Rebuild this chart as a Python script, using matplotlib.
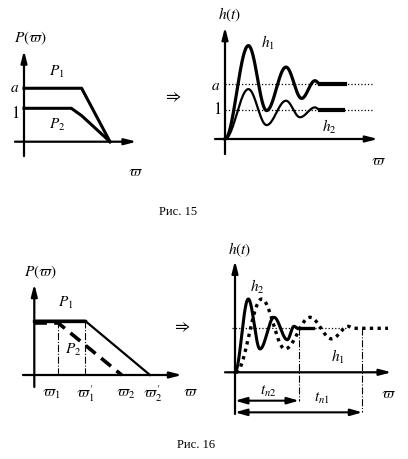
import numpy as np
import matplotlib
matplotlib.use('Agg')
import matplotlib.pyplot as plt

plt.rcParams['mathtext.fontset'] = 'stix'
plt.rcParams['font.family'] = ['Liberation Serif', 'DejaVu Serif']

# --- Рис. 15, left: spectra P(w) (w normalised to cut-off = 1)
p1_w = [0, 0.67, 1.0]
p1_v = [1.6, 1.6, 0]
p2_w = [0, 0.55, 0.67, 1.0]
p2_v = [1, 1, 0.78, 0]

# --- Рис. 15, right: step responses, extrema (t, h)
h1_t = [0, 1.17, 2.08, 3.05, 3.83, 4.5, 4.75]
h1_v = [0, 3.22, 0.98, 2.48, 1.40, 2.01, 1.9]
h1_end = 6.0
h2_t = [0, 1.17, 2.08, 3.05, 3.75, 4.5, 4.75]
h2_v = [0, 1.72, 0.48, 1.32, 0.75, 1.09, 1.0]
h2_end = 5.9
level_a = 1.9

# --- Рис. 16, left
q1_w = [0, 0.438, 1.0]
q1_v = [1, 1, 0]
q2_w = [0, 0.207, 0.755]
q2_v = [0.958, 0.958, 0]
w_ticks = [0.207, 0.438, 0.755, 1.0]
w_labels = [r'$\varpi_1$', r"$\varpi_1'$", r'$\varpi_2$', r"$\varpi_2'$"]

# --- Рис. 16, right
g2_t = [0, 0.665, 1.25, 1.95, 2.615, 2.95, 3.15]
g2_v = [0, 1.666, 0.53, 1.25, 0.74, 1.045, 1.0]
g2_end = 3.9
g1_t = [0.05, 1.335, 2.5, 3.75, 4.835, 5.665, 5.9]
g1_v = [0, 1.666, 0.53, 1.25, 0.76, 1.045, 1.0]
g1_end = 7.65
t_n2 = 3.2
t_n1 = 6.365

W, H = 408, 460
fig = plt.figure(figsize=(W / 100, H / 100), dpi=100)


def panel(ox, oy, sx, sy):
    ax = fig.add_axes([0, 0, 1, 1])
    ax.set_xlim(-ox / sx, (W - ox) / sx)
    ax.set_ylim(-(H - oy) / sy, oy / sy)
    ax.axis('off')
    ax.patch.set_alpha(0)
    return ax


def axes_arrows(ax, x0, x1, y0, y1):
    ap = dict(arrowstyle='-|>,head_length=0.7,head_width=0.18', lw=1.6,
              color='black', shrinkA=0, shrinkB=0)
    ax.annotate('', xy=(x1, 0), xytext=(x0, 0), arrowprops=ap)
    ax.annotate('', xy=(0, y1), xytext=(0, y0), arrowprops=ap)


def wave(ts, hs, n=40):
    tt, hh = [ts[0]], [hs[0]]
    s = np.linspace(0, 1, n)[1:]
    for i in range(len(ts) - 1):
        tt += list(ts[i] + (ts[i + 1] - ts[i]) * s)
        hh += list(hs[i] + (hs[i + 1] - hs[i]) * (1 - np.cos(np.pi * s)) / 2)
    return tt, hh


def label(x, y, s, size=11):
    fig.text(x / W, 1 - y / H, s, ha='center', va='center', fontsize=size)


# ---------------- panel 1
ax = panel(24, 142.7, 86, 33.4)
axes_arrows(ax, -0.105, 1.31, -0.43, 2.73)
ax.plot(p1_w, p1_v, color='black', lw=2.2)
ax.plot(p2_w, p2_v, color='black', lw=2.2)
label(30, 38, r'$P(\varpi)$')
label(15, 89, r'$a$')
label(15, 114, r'$1$', 12)
label(57, 72, r'$P_1$')
label(57, 125, r'$P_2$')
label(135, 172, r'$\varpi$')
label(172, 97, r'$\Rightarrow$', 12)

# ---------------- panel 2
ax = panel(225, 140, 20, 29)
axes_arrows(ax, -0.5, 7.65, -0.52, 3.86)
ax.plot([0, 7.35], [level_a, level_a], color='black', lw=0.9, ls=':')
ax.plot([0, 7.35], [1, 1], color='black', lw=0.9, ls=':')
t, h = wave(h1_t, h1_v)
ax.plot(t, h, color='black', lw=2.3)
ax.plot([h1_t[-1], h1_end], [h1_v[-1], h1_v[-1]], color='black', lw=3)
t, h = wave(h2_t, h2_v)
ax.plot(t, h, color='black', lw=1.6)
ax.plot([h2_t[-1], h2_end], [h2_v[-1], h2_v[-1]], color='black', lw=3)
label(230, 15, r'$h(t)$')
label(216, 86, r'$a$')
label(217, 110, r'$1$', 12)
label(268, 43, r'$h_1$')
label(329, 127, r'$h_2$')
label(378, 162, r'$\varpi$')

label(178, 212, 'Рис. 15', 9)

# ---------------- panel 3
ax = panel(34.3, 376, 115.7, 54.3)
axes_arrows(ax, -0.098, 1.277, -0.22, 1.676)
ax.plot(q1_w, q1_v, color='black', lw=1.6)
ax.plot(q1_w[:2], q1_v[:2], color='black', lw=2.4)
ax.plot(q2_w, q2_v, color='black', lw=2.6, ls=(0, (3.5, 2)))
ax.plot([q2_w[1]] * 2, [0, q2_v[1]], color='black', lw=0.8, ls='-.')
ax.plot([q1_w[1]] * 2, [0, q1_v[1]], color='black', lw=0.8, ls='-.')
for w, s, dx in zip(w_ticks, w_labels, [-5, 0, 3, 2]):
    ax.annotate(s, xy=(w, 0), xytext=(dx, -13), textcoords='offset points',
                ha='center', va='center', fontsize=11)
label(40, 272, r'$P(\varpi)$')
label(66, 303, r'$P_1$')
label(73, 350, r'$P_2$')
label(190, 393, r'$\varpi$')
label(181, 327, r'$\Rightarrow$', 12)

# ---------------- panel 4
ax = panel(235, 373.3, 20, 44)
axes_arrows(ax, -0.5, 7.835, -0.948, 2.536)
ax.plot([-0.165, 5.6], [1, 1], color='black', lw=0.9, ls=':')
t, h = wave(g2_t, g2_v)
ax.plot(t, h, color='black', lw=2.2)
ax.plot([g2_t[-1], g2_end], [1, 1], color='black', lw=2.4)
t, h = wave(g1_t, g1_v)
ax.plot(t + [g1_end], h + [1], color='black', lw=2.4, ls=(0, (1, 1.3)))
ax.plot([t_n2, t_n2], [1, -0.645], color='black', lw=0.8, ls='-.')
ax.plot([t_n1, t_n1], [1, -0.91], color='black', lw=0.8, ls='-.')
ap = dict(arrowstyle='<|-|>,head_length=0.7,head_width=0.2', lw=1.5,
          color='black', shrinkA=0, shrinkB=0)
ax.annotate('', xy=(t_n2, -0.645), xytext=(0, -0.645), arrowprops=ap)
ax.annotate('', xy=(t_n1, -0.91), xytext=(0, -0.91), arrowprops=ap)
label(240, 250, r'$h(t)$')
label(257, 287, r'$h_2$')
label(338, 357, r'$h_1$')
label(268, 391, r'$t_{n2}$')
label(322, 398, r'$t_{n1}$')
label(388, 395, r'$\varpi$')

label(196, 445, 'Рис. 16', 9)

fig.savefig('out.png', dpi=100)
